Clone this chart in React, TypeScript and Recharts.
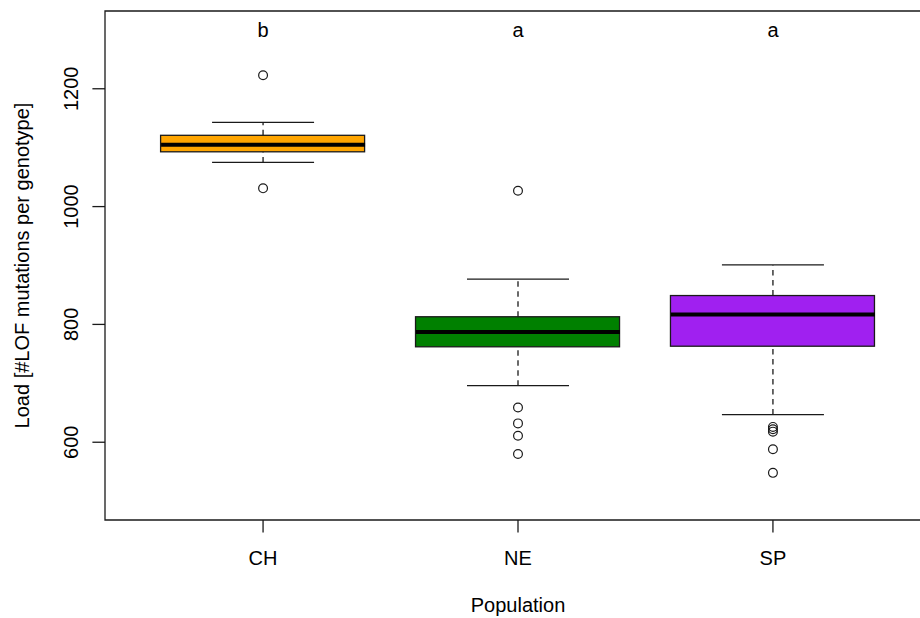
import React from "react";
import {
  ComposedChart,
  Bar,
  Scatter,
  XAxis,
  YAxis,
  ReferenceLine,
  ReferenceArea,
} from "recharts";

// populations and their box statistics
const populations = ["CH", "NE", "SP"];
const positions = [1, 2, 3];
const colors = ["#FFA500", "#008000", "#A020F0"];
const lowerWhisker = [1075, 696, 647];
const lowerQuartile = [1093, 762, 763];
const medians = [1105, 787, 817];
const upperQuartile = [1121, 813, 849];
const upperWhisker = [1143, 877, 901];
const letters = ["b", "a", "a"];
const letterLevel = [1300, 1300, 1300];

const outlierPop = [1, 1, 2, 2, 2, 2, 2, 3, 3, 3, 3, 3];
const outlierVal = [1223, 1031, 1027, 659, 632, 611, 580, 626, 622, 618, 588, 548];

const yTicks = [600, 800, 1000, 1200];
const yDomain = [468, 1332];
const xDomain = [0.38, 3.62];

const rows = populations.map((name, i) => ({
  name,
  pos: positions[i],
  color: colors[i],
  lo: lowerWhisker[i],
  q1: lowerQuartile[i],
  med: medians[i],
  q3: upperQuartile[i],
  hi: upperWhisker[i],
  letter: letters[i],
  letterY: letterLevel[i],
}));

const outliers = outlierPop.map((p, i) => ({ pos: p, v: outlierVal[i] }));

const BOX_HALF = 102;
const CAP_HALF = 51;
const FS = 20;
const FONT = "'Liberation Sans', Arial, Helvetica, sans-serif";
const INK = "#1a1a1a";

const BoxShape = (p: any) => {
  const y = Math.min(p.y, p.y + p.height);
  const h = Math.abs(p.height);
  return (
    <rect
      x={p.x}
      y={y}
      width={p.width}
      height={h}
      fill={p.payload.color}
      stroke={INK}
      strokeWidth={1.3}
    />
  );
};

const MedianShape = (p: any) => (
  <line x1={p.cx - BOX_HALF} x2={p.cx + BOX_HALF} y1={p.cy} y2={p.cy} stroke="#000" strokeWidth={4} />
);

const CapShape = (p: any) => (
  <line x1={p.cx - CAP_HALF} x2={p.cx + CAP_HALF} y1={p.cy} y2={p.cy} stroke={INK} strokeWidth={1.3} />
);

const OutlierShape = (p: any) => (
  <circle cx={p.cx} cy={p.cy} r={4.4} fill="none" stroke={INK} strokeWidth={1.2} />
);

const LetterShape = (p: any) => (
  <text x={p.cx} y={p.cy + 7.5} textAnchor="middle" fontSize={FS} fontFamily={FONT} fill="#000">
    {p.payload.letter}
  </text>
);

const XTick = (p: any) => (
  <text x={p.x} y={p.y} dy={32.5} textAnchor="middle" fontSize={FS} fontFamily={FONT} fill="#000">
    {populations[positions.indexOf(p.payload.value)]}
  </text>
);

const YTick = (p: any) => (
  <text
    x={p.x - 14}
    y={p.y}
    textAnchor="middle"
    fontSize={FS}
    fontFamily={FONT}
    fill="#000"
    transform={`rotate(-90, ${p.x - 14}, ${p.y})`}
  >
    {p.payload.value}
  </text>
);

export default function App() {
  return (
    <div
      style={{
        position: "fixed",
        left: 0,
        top: 0,
        width: 920,
        height: 618,
        overflow: "hidden",
        background: "#fff",
      }}
    >
      <ComposedChart
        width={960}
        height={618}
        data={rows}
        margin={{ top: 11, right: 29, bottom: 0, left: 0 }}
      >
        <XAxis
          dataKey="pos"
          type="number"
          domain={xDomain}
          allowDataOverflow
          ticks={positions}
          axisLine={false}
          tickSize={12.6}
          tickMargin={0}
          tickLine={{ stroke: INK, strokeWidth: 1.3 }}
          tick={<XTick />}
          height={98}
          label={{
            content: (lp: any) => {
              const vb = lp.viewBox;
              return (
                <text
                  x={vb.x + vb.width / 2}
                  y={vb.y + 92}
                  textAnchor="middle"
                  fontSize={FS}
                  fontFamily={FONT}
                  fill="#000"
                >
                  Population
                </text>
              );
            },
          }}
        />
        <YAxis
          type="number"
          domain={yDomain}
          allowDataOverflow
          ticks={yTicks}
          axisLine={false}
          tickSize={12.6}
          tickMargin={0}
          tickLine={{ stroke: INK, strokeWidth: 1.3 }}
          tick={<YTick />}
          width={105}
          label={{
            content: (lp: any) => {
              const vb = lp.viewBox;
              const cy = vb.y + vb.height / 2;
              return (
                <text
                  x={28.5}
                  y={cy}
                  textAnchor="middle"
                  fontSize={FS}
                  fontFamily={FONT}
                  fill="#000"
                  transform={`rotate(-90, 28.5, ${cy})`}
                >
                  Load [#LOF mutations per genotype]
                </text>
              );
            },
          }}
        />
        <ReferenceArea
          x1={xDomain[0]}
          x2={xDomain[1]}
          y1={yDomain[0]}
          y2={yDomain[1]}
          fill="none"
          fillOpacity={0}
          stroke={INK}
          strokeWidth={1.3}
          ifOverflow="visible"
        />
        {rows.map((r) => (
          <ReferenceLine
            key={"up" + r.name}
            segment={[
              { x: r.pos, y: r.q3 },
              { x: r.pos, y: r.hi },
            ]}
            stroke={INK}
            strokeWidth={1.3}
            strokeDasharray="5.5 4.5"
          />
        ))}
        {rows.map((r) => (
          <ReferenceLine
            key={"lo" + r.name}
            segment={[
              { x: r.pos, y: r.lo },
              { x: r.pos, y: r.q1 },
            ]}
            stroke={INK}
            strokeWidth={1.3}
            strokeDasharray="5.5 4.5"
          />
        ))}
        <Bar
          dataKey={(d: any) => [d.q1, d.q3]}
          barSize={BOX_HALF * 2}
          shape={BoxShape}
          isAnimationActive={false}
        />
        <Scatter dataKey="med" shape={MedianShape} isAnimationActive={false} />
        <Scatter dataKey="hi" shape={CapShape} isAnimationActive={false} />
        <Scatter dataKey="lo" shape={CapShape} isAnimationActive={false} />
        <Scatter data={outliers} dataKey="v" shape={OutlierShape} isAnimationActive={false} />
        <Scatter dataKey="letterY" shape={LetterShape} isAnimationActive={false} />
      </ComposedChart>
    </div>
  );
}
